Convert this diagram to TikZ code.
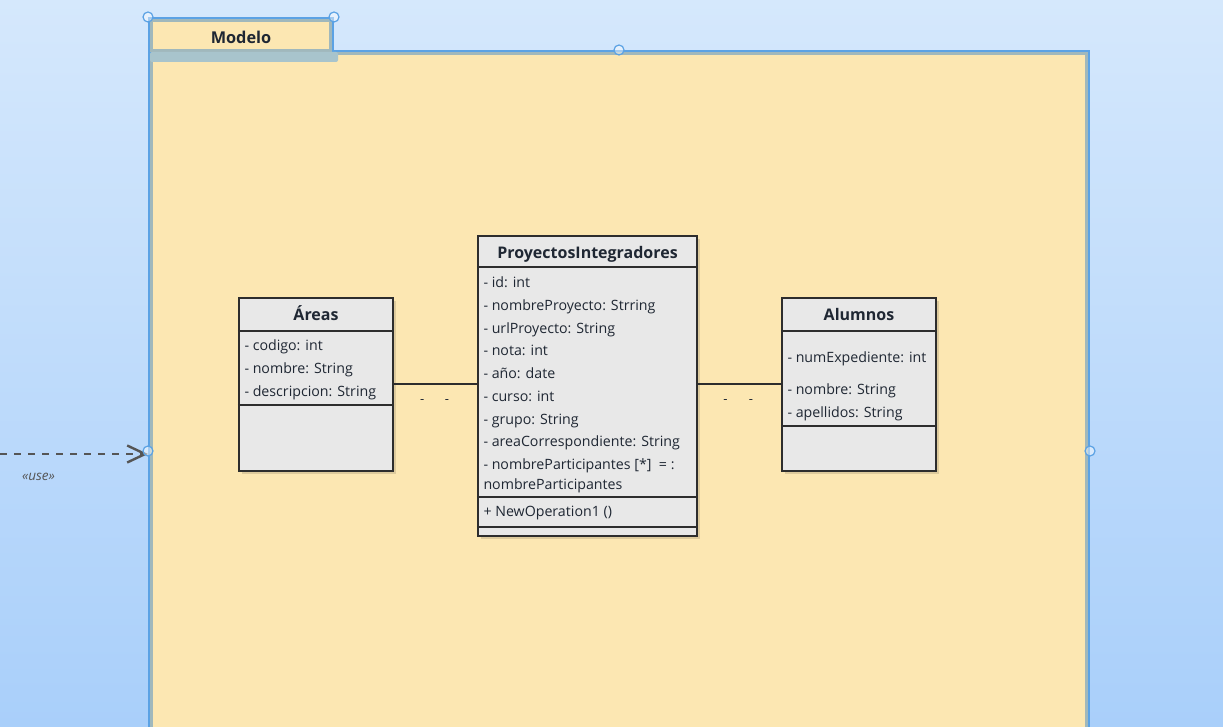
\documentclass[tikz,border=0pt]{standalone}
\usepackage{fontspec}
\setmainfont{Open Sans}
\usetikzlibrary{positioning,arrows.meta,shadows}
\definecolor{bgtop}{HTML}{D5E8FC}
\definecolor{bgbot}{HTML}{A9CFFA}
\definecolor{pkgfill}{HTML}{FCE7B2}
\definecolor{pkgblue}{HTML}{5BA2E4}
\definecolor{pkggrey}{HTML}{A0B8BC}
\definecolor{pkgband}{HTML}{A8C4CC}
\definecolor{clsfill}{HTML}{E8E8E8}
\definecolor{clsline}{HTML}{2D2D2D}
\definecolor{clstext}{HTML}{1F2733}
\definecolor{usegrey}{HTML}{555555}

\begin{document}
\begin{tikzpicture}[x=1pt,y=1pt]
\tikzstyle{pkgbox}=[draw=pkgblue,line width=4pt,fill=pkgfill,inner sep=0pt]
\tikzstyle{pkginner}=[draw=pkggrey,line width=2.5pt]
\tikzstyle{handle}=[circle,draw=pkgblue,line width=1.2pt,fill=white,fill opacity=0.45,minimum size=10pt,inner sep=0pt]
\tikzstyle{classbox}=[draw=clsline,line width=2.4pt,fill=clsfill,inner sep=0pt,
  drop shadow={shadow xshift=3pt,shadow yshift=-3pt,fill=black,opacity=0.12}]
\tikzstyle{classname}=[font=\fontsize{16}{18}\selectfont\bfseries,text=clstext,inner sep=0pt,anchor=base]
\tikzstyle{classattr}=[font=\fontsize{14.2}{22.7}\selectfont,text=clstext,align=left,anchor=west,inner sep=0pt]
\tikzstyle{compline}=[draw=clsline,line width=2.4pt]
\tikzstyle{assoc}=[draw=clsline,line width=2pt]
\tikzstyle{mult}=[font=\fontsize{13}{14}\selectfont,text=clstext,inner sep=0pt]
\tikzstyle{usearrow}=[draw=usegrey,line width=2.4pt,dash pattern=on 7pt off 7pt,
  -{Straight Barb[length=18pt,width=17pt]}]
\tikzstyle{uselbl}=[font=\fontsize{13.5}{15}\selectfont\itshape,text=usegrey,inner sep=0pt]

\useasboundingbox (0,0) rectangle (1223,726);
\clip (0,0) rectangle (1223,726);
\shade[top color=bgtop,bottom color=bgbot] (0,0) rectangle (1223,726);

% package Modelo
\node[pkgbox,minimum width=938pt,minimum height=798pt] (modelo) at (619,275) {};
\draw[pkginner] ([shift={(3.5,-3.5)}]modelo.north west) rectangle ([shift={(-3.5,3.5)}]modelo.south east);
\node[pkgbox,minimum width=182pt,minimum height=33pt] (modelotab) at (241,690.5) {};
\draw[pkginner] ([shift={(3.5,-3.5)}]modelotab.north west) rectangle ([shift={(-3.5,3.5)}]modelotab.south east);
\fill[pkgband,rounded corners=2pt] ([shift={(2,2)}]modelotab.south west) rectangle ([shift={(4,-8)}]modelotab.south east);
\node[font=\fontsize{16.3}{18}\selectfont\bfseries,text=clstext] (modelolbl) at ([yshift=-1.5pt]modelotab.center) {Modelo};

% classes
\node[classbox,minimum width=219pt,minimum height=300pt] (proy) at (587.5,340) {};
\node[classbox,minimum width=154pt,minimum height=173pt,left=82.6pt of proy,yshift=1.5pt] (areas) {};
\node[classbox,minimum width=154pt,minimum height=173pt,right=82.6pt of proy,yshift=1.5pt] (alumnos) {};

\node[classname] (areasname) at ([yshift=-24pt]areas.north) {Áreas};
\draw[compline] ([yshift=-34pt]areas.north west) -- ([yshift=-34pt]areas.north east);
\draw[compline] ([yshift=-108pt]areas.north west) -- ([yshift=-108pt]areas.north east);
\node[classattr] (areasattr) at ([xshift=6.5pt,yshift=-73pt]areas.north west)
  {- codigo: int\\- nombre: String\\- descripcion: String};

\node[classname] (proyname) at ([yshift=-24pt]proy.north) {ProyectosIntegradores};
\draw[compline] ([yshift=-32pt]proy.north west) -- ([yshift=-32pt]proy.north east);
\draw[compline] ([yshift=-262pt]proy.north west) -- ([yshift=-262pt]proy.north east);
\draw[compline] ([yshift=-292pt]proy.north west) -- ([yshift=-292pt]proy.north east);
\node[classattr] (proyattr) at ([xshift=6.5pt,yshift=-150pt]proy.north west)
  {- id: int\\- nombreProyecto: Strring\\- urlProyecto: String\\- nota: int\\- año: date\\- curso: int\\- grupo: String\\- areaCorrespondiente: String\\- nombreParticipantes [*]\ \ = :\\[-3pt]nombreParticipantes};
\node[classattr] (proyops) at ([xshift=6.5pt,yshift=-278pt]proy.north west) {+ NewOperation1 ()};

\node[classname] (alumnosname) at ([yshift=-24pt]alumnos.north) {Alumnos};
\draw[compline] ([yshift=-34pt]alumnos.north west) -- ([yshift=-34pt]alumnos.north east);
\draw[compline] ([yshift=-129pt]alumnos.north west) -- ([yshift=-129pt]alumnos.north east);
\node[classattr] (alumnosattr) at ([xshift=6.5pt,yshift=-89.5pt]alumnos.north west)
  {- numExpediente: int\\[10pt]- nombre: String\\- apellidos: String};

% associations
\draw[assoc] (areas.east) -- (areas.east -| proy.west)
  node[mult,pos=0.34,yshift=-17pt] {-} node[mult,pos=0.64,yshift=-17pt] {-};
\draw[assoc] (proy.east |- alumnos.west) -- (alumnos.west)
  node[mult,pos=0.33,yshift=-17pt] {-} node[mult,pos=0.64,yshift=-17pt] {-};

% use dependency
\coordinate (usesrc) at (0,272);
\draw[usearrow] (usesrc) -- (usesrc -| modelo.west) node[uselbl,pos=0.26,below=18pt] {«use»};

% selection handles
\node[handle] (h1) at (modelotab.north west) {};
\node[handle] (h2) at (modelotab.north east) {};
\node[handle] (h3) at (modelo.north) {};
\node[handle] (h4) at (modelo.west) {};
\node[handle] (h5) at (modelo.east) {};
\end{tikzpicture}
\end{document}
